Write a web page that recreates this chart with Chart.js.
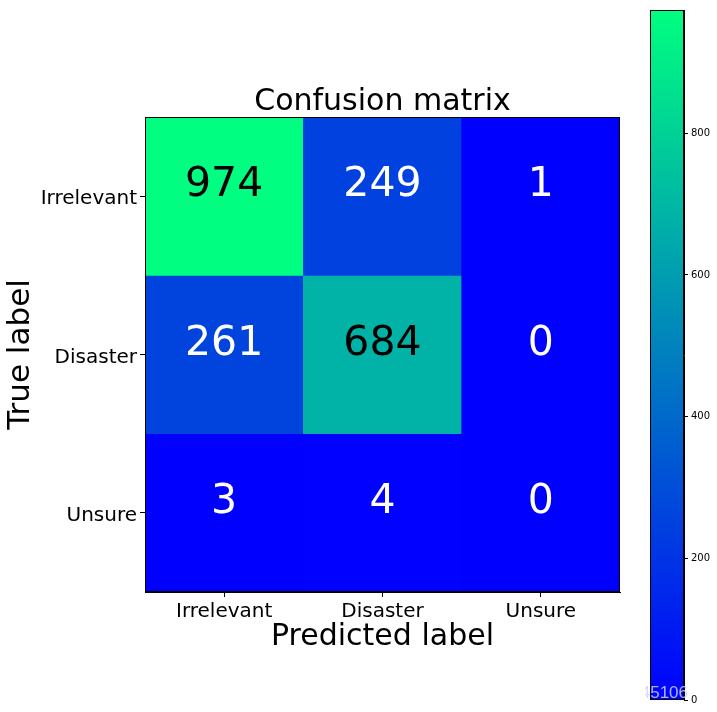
<!DOCTYPE html>
<html>
<head>
<meta charset="utf-8">
<script src="https://cdn.jsdelivr.net/npm/chart.js@4"></script>
<style>
  body { margin: 0; background: #fff; }
  #wrap { position: relative; width: 717px; height: 712px; }
  canvas { position: absolute; left: 0; top: 0; }
</style>
</head>
<body>
<div id="wrap">
  <canvas id="matrix" width="717" height="712"></canvas>
  <canvas id="colorbar" width="717" height="712"></canvas>
</div>
<script>
// categories
const predictedLabels = ['Irrelevant', 'Disaster', 'Unsure'];
const trueLabels = ['Irrelevant', 'Disaster', 'Unsure'];
// one row per true label
const rowIrrelevant = [974, 249, 1];
const rowDisaster = [261, 684, 0];
const rowUnsure = [3, 4, 0];
const rows = [rowIrrelevant, rowDisaster, rowUnsure];
// colorbar ticks
const barTicks = [0, 200, 400, 600, 800];

const vmax = Math.max(...rows.flat());
const thresh = vmax / 2;

Chart.defaults.font.family = 'DejaVu Sans';
Chart.defaults.color = '#000';

// matplotlib "winter" colormap
function winter(v) {
  let idx = Math.floor(v / vmax * 256);
  if (idx > 255) idx = 255;
  const t = idx / 255;
  return 'rgb(0,' + Math.round(t * 255) + ',' + Math.round((1 - 0.5 * t) * 255) + ')';
}

const datasets = rows.map((row, r) => ({
  label: trueLabels[r],
  data: row.map(() => [r - 0.5, r + 0.5]),
  backgroundColor: row.map(v => winter(v)),
  borderWidth: 0,
  borderSkipped: false,
  grouped: false,
  barPercentage: 1,
  categoryPercentage: 1
}));

// box around the plot + numbers in each cell
const cellText = {
  id: 'cellText',
  afterDatasetsDraw(chart) {
    const ctx = chart.ctx;
    ctx.save();
    ctx.font = '41px "DejaVu Sans"';
    ctx.textAlign = 'center';
    ctx.textBaseline = 'alphabetic';
    rows.forEach((row, r) => {
      const meta = chart.getDatasetMeta(r);
      meta.data.forEach((bar, c) => {
        const v = row[c];
        ctx.fillStyle = v > thresh ? '#000' : '#fff';
        ctx.fillText(String(v), bar.x, (bar.y + bar.base) / 2);
      });
    });
    ctx.restore();
  },
  afterDraw(chart) {
    const a = chart.chartArea;
    const ctx = chart.ctx;
    ctx.save();
    ctx.strokeStyle = '#000';
    ctx.lineWidth = 1;
    ctx.strokeRect(Math.round(a.left) + 0.5, Math.round(a.top) + 0.5,
      Math.round(a.right - a.left) - 1, Math.round(a.bottom - a.top) - 1);
    ctx.restore();
  }
};

new Chart(document.getElementById('matrix'), {
  type: 'bar',
  data: { labels: predictedLabels, datasets: datasets },
  options: {
    responsive: false,
    animation: false,
    layout: { padding: { top: 0, right: 97, left: 0, bottom: 0 } },
    plugins: {
      legend: { display: false },
      tooltip: { enabled: false },
      title: {
        display: true,
        text: 'Confusion matrix',
        fullSize: false,
        font: { size: 30, weight: 'normal', lineHeight: 1 },
        padding: { top: 87, bottom: 0 },
        color: '#000'
      }
    },
    scales: {
      x: {
        grid: { drawOnChartArea: false, offset: false, tickLength: 5, color: '#000' },
        border: { color: '#000' },
        ticks: { font: { size: 20 }, color: '#000', maxRotation: 0, padding: 3 },
        title: { display: true, text: 'Predicted label', font: { size: 30 }, color: '#000', padding: { top: 0, bottom: 57 } },
        afterFit(scale) { scale.height = 120; }
      },
      y: {
        type: 'linear',
        reverse: true,
        min: -0.5,
        max: 2.5,
        grid: { drawOnChartArea: false, tickLength: 5, color: '#000' },
        border: { color: '#000' },
        ticks: { font: { size: 20 }, color: '#000', padding: 3, labelOffset: 3, callback: v => trueLabels[v] },
        afterBuildTicks(scale) { scale.ticks = trueLabels.map((_, i) => ({ value: i })); },
        title: { display: true, text: 'True label', font: { size: 31 }, color: '#000', padding: { top: 2, bottom: 0 } },
        afterFit(scale) { scale.width = 145; }
      }
    }
  },
  plugins: [cellText]
});

// colorbar
const colorbarDeco = {
  id: 'colorbarDeco',
  afterDraw(chart) {
    const a = chart.chartArea;
    const ctx = chart.ctx;
    ctx.save();
    ctx.strokeStyle = '#000';
    ctx.lineWidth = 1;
    ctx.strokeRect(Math.round(a.left) + 0.5, Math.round(a.top) + 0.5,
      Math.round(a.right - a.left) - 1, Math.round(a.bottom - a.top) - 1);
    // watermark
    ctx.beginPath();
    ctx.rect(645, 670, 72, 42);
    ctx.clip();
    ctx.font = '17px "Liberation Sans"';
    ctx.textAlign = 'right';
    ctx.textBaseline = 'alphabetic';
    ctx.fillStyle = 'rgba(205,210,255,0.85)';
    ctx.fillText('45106', 688, 698);
    ctx.restore();
  }
};

new Chart(document.getElementById('colorbar'), {
  type: 'bar',
  data: {
    labels: [''],
    datasets: [{
      data: [[0, vmax]],
      backgroundColor(context) {
        const a = context.chart.chartArea;
        if (!a) return 'blue';
        const g = context.chart.ctx.createLinearGradient(0, a.bottom, 0, a.top);
        for (let i = 0; i <= 10; i++) {
          g.addColorStop(i / 10, winter(vmax * i / 10));
        }
        return g;
      },
      borderWidth: 0,
      borderSkipped: false,
      barPercentage: 1,
      categoryPercentage: 1
    }]
  },
  options: {
    responsive: false,
    animation: false,
    layout: { padding: { top: 10, right: 0, left: 650, bottom: 12 } },
    plugins: { legend: { display: false }, tooltip: { enabled: false } },
    scales: {
      x: { display: false },
      y: {
        position: 'right',
        min: 0,
        max: vmax,
        grid: { drawOnChartArea: false, tickLength: 4, color: '#000' },
        border: { color: '#000' },
        ticks: { font: { size: 10 }, color: '#000', padding: 3, includeBounds: false },
        afterBuildTicks(scale) { scale.ticks = barTicks.map(v => ({ value: v })); },
        afterFit(scale) { scale.width = 33; }
      }
    }
  },
  plugins: [colorbarDeco]
});
</script>
</body>
</html>
